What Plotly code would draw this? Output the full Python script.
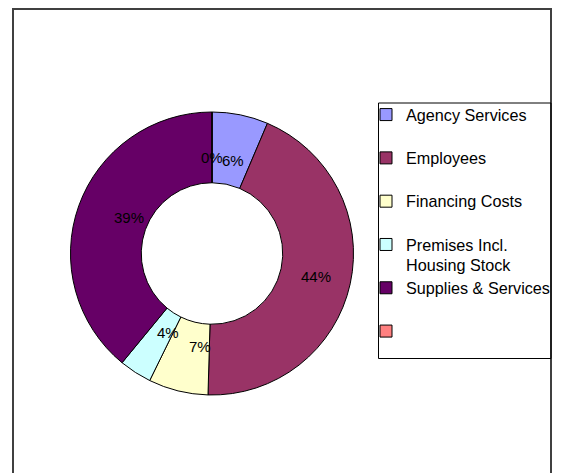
import math
import textwrap
import plotly.graph_objects as go

categories = ["Agency Services", "Employees", "Financing Costs",
              "Premises Incl. Housing Stock", "Supplies & Services", " "]
values = [6.4, 44.0, 6.8, 3.7, 39.0, 0.0]
colors = ["#9999FF", "#993366", "#FFFFCC", "#CCFFFF", "#660066", "#FF8080"]

W, H = 562, 473
OFF = 8  # page body margin of the browser
FONT = "Liberation Sans, Arial, sans-serif"
HOLE = 0.5
LABEL_SIZE = 15


def px(x):
    return (x - OFF) / W


def py(y):
    return 1 - (y - OFF) / H


def legend_label(name, width=20, lines=2):
    parts = textwrap.wrap(name, width) or [name]
    while len(parts) < lines:
        parts.append(" ")
    return "<span style='font-size:16.2px'>" + "<br>".join(parts) + "</span>"


labels = [legend_label(c) for c in categories]

dom_x = [px(70.5), px(353.5)]
dom_y = [py(395), py(112)]

fig = go.Figure(go.Pie(
    labels=labels,
    values=values,
    hole=HOLE,
    sort=False,
    direction="clockwise",
    rotation=0,
    marker=dict(colors=colors, line=dict(color="#000000", width=1)),
    textinfo="none",
    domain=dict(x=dom_x, y=dom_y),
    showlegend=True,
    hoverinfo="label+percent",
))

# percentage labels at each slice's mid angle, on the middle of the ring
total = sum(values)
annotations = []
cx = (dom_x[0] + dom_x[1]) / 2
cy = (dom_y[0] + dom_y[1]) / 2
r_px = min((dom_x[1] - dom_x[0]) * W, (dom_y[1] - dom_y[0]) * H) / 2
r_mid = r_px * (1 + HOLE) / 2
cum = 0.0
for v in values:
    ang = 2 * math.pi * (cum + v / 2) / total
    annotations.append(dict(
        xref="paper", yref="paper",
        x=cx + r_mid * math.sin(ang) / W,
        y=cy + r_mid * math.cos(ang) / H,
        text=f"{round(100 * v / total)}%", showarrow=False,
        font=dict(family=FONT, size=LABEL_SIZE, color="#000000"),
    ))
    cum += v

shapes = [
    dict(type="rect", xref="paper", yref="paper",
         x0=px(13), x1=px(551), y0=-0.05, y1=1 - 1 / H,
         line=dict(color="#404040", width=2), fillcolor="rgba(0,0,0,0)", layer="below"),
    dict(type="rect", xref="paper", yref="paper",
         x0=px(378.5), x1=px(551), y0=py(358.5), y1=py(103),
         line=dict(color="#000000", width=1), fillcolor="rgba(0,0,0,0)", layer="below"),
]

fig.update_layout(
    width=W, height=H,
    margin=dict(l=0, r=0, t=0, b=0),
    paper_bgcolor="#FFFFFF",
    plot_bgcolor="#FFFFFF",
    font=dict(family=FONT, size=15.5, color="#000000"),
    shapes=shapes,
    annotations=annotations,
    legend=dict(
        x=px(366), y=py(98), xanchor="left", yanchor="top",
        bgcolor="rgba(0,0,0,0)", borderwidth=0,
        valign="top", traceorder="normal",
        font=dict(family=FONT, size=15.5, color="#000000"),
    ),
)

fig.write_html("out.html")
